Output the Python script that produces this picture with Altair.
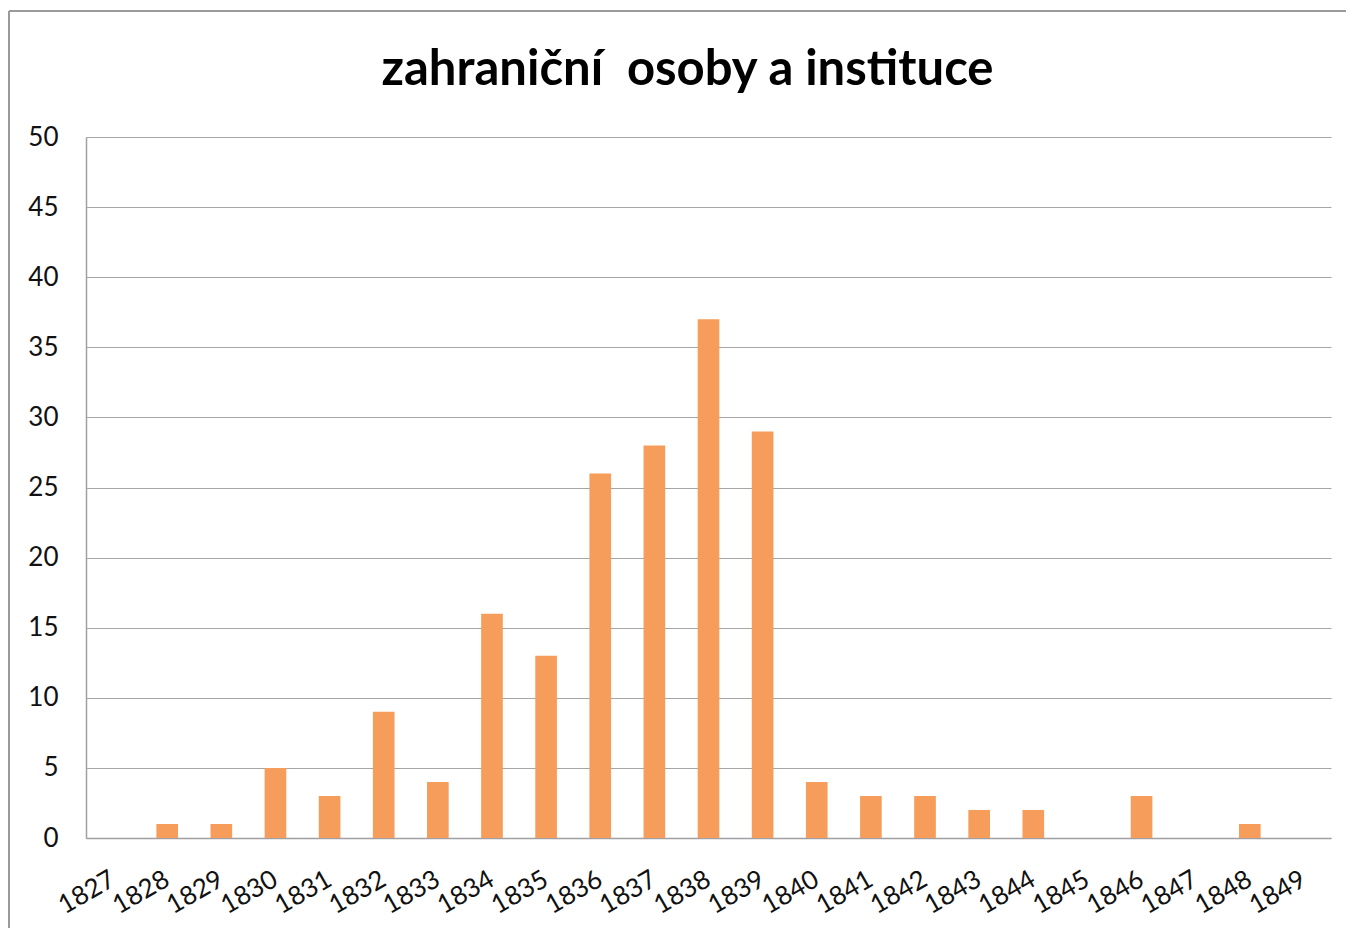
import altair as alt
import pandas as pd

years = [str(y) for y in range(1827, 1850)]
counts = [0, 1, 1, 5, 3, 9, 4, 16, 13, 26, 28, 37, 29, 4, 3, 3, 2, 2, 0, 3, 0, 1, 0]

df = pd.DataFrame({"year": years, "count": counts})

FONT = "Lato"

bars = alt.Chart(df).mark_bar(color="#F79D5B").encode(
    x=alt.X("year:N", sort=years, title=None,
            scale=alt.Scale(paddingInner=0.6, paddingOuter=0.3),
            axis=alt.Axis(labelAngle=-30, labelAlign="right", labelBaseline="middle",
                          labelPadding=39, ticks=False, domain=True, domainColor="#A0A0A4",
                          domainWidth=1.5, labelFont=FONT, labelFontSize=26,
                          labelColor="#111111", grid=False)),
    y=alt.Y("count:Q", title=None,
            scale=alt.Scale(domain=[0, 50], nice=False),
            axis=alt.Axis(values=list(range(0, 51, 5)), ticks=False, domain=True,
                          domainColor="#A0A0A4", domainWidth=1.5, grid=True,
                          gridColor="#A6A6A6", gridWidth=1.2, labelPadding=28,
                          labelFont=FONT, labelFontSize=26, labelColor="#111111")),
)

frame_data = alt.Data(values=[{"k": 1}])
left_border = alt.Chart(frame_data).mark_rule(color="#9A9A9A", strokeWidth=2).encode(
    x=alt.value(-77), y=alt.value(-126), y2=alt.value(820))
top_border = alt.Chart(frame_data).mark_rule(color="#9A9A9A", strokeWidth=2).encode(
    x=alt.value(-77), x2=alt.value(1300), y=alt.value(-126))

chart = alt.layer(bars, left_border, top_border).properties(
    width=1245, height=701,
    autosize=alt.AutoSizeParams(type="none"),
    padding={"left": 78, "top": 129, "right": 15, "bottom": 90},
    title=alt.TitleParams("zahraniční\u00a0 osoby a instituce", font=FONT, fontSize=49,
                          fontWeight="bold", color="#000000", anchor="middle",
                          dx=-21, offset=-85),
).configure_view(stroke=None)

chart.save("out.html", embed_options={"renderer": "svg", "actions": False})
